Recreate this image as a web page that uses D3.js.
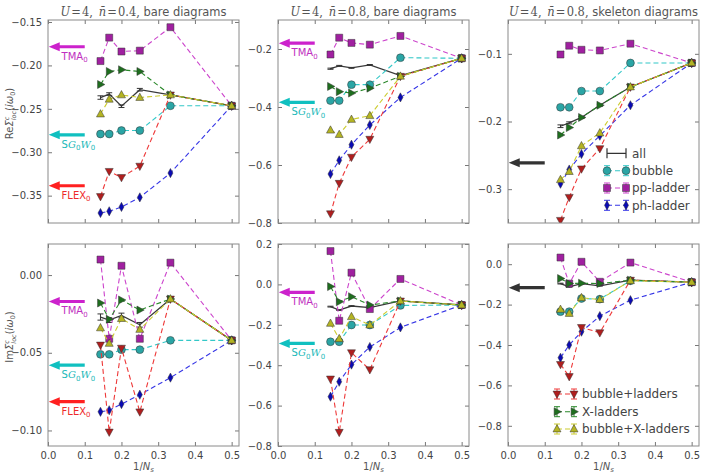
<!DOCTYPE html>
<html><head><meta charset="utf-8">
<script src="https://cdn.jsdelivr.net/npm/d3@7"></script>
<style>body{margin:0;background:#fff;} svg text{font-family:"DejaVu Sans",sans-serif;}</style>
</head><body><svg id="c" width="702" height="474"></svg>
<script>
// ---------- data ----------
const xVals = [1/7, 1/6, 1/5, 1/4, 1/3, 1/2];
const seriesNames = ["all", "bubble", "pp-ladder", "ph-ladder", "bubble+ladders", "X-ladders", "bubble+X-ladders"];
// order of rows follows seriesNames
const reBare04 = [
  [-0.237, -0.233, -0.247, -0.228, -0.234, -0.2465],
  [-0.279, -0.279, -0.275, -0.275, -0.2465, -0.2465],
  [-0.195, -0.168, -0.184, -0.183, -0.156, -0.2465],
  [-0.370, -0.368, -0.363, -0.352, -0.324, -0.2465],
  [-0.351, -0.322, -0.329, -0.316, -0.234, -0.2465],
  [-0.222, -0.207, -0.205, -0.207, -0.234, -0.2465],
  [-0.256, -0.239, -0.234, -0.237, -0.234, -0.2465]
];
const reBare08 = [
  [-0.268, -0.258, -0.265, -0.255, -0.292, -0.232],
  [-0.378, -0.378, -0.323, -0.323, -0.230, -0.232],
  [-0.219, -0.161, -0.179, -0.185, -0.155, -0.232],
  [-0.631, -0.584, -0.530, -0.462, -0.367, -0.232],
  [-0.768, -0.663, -0.573, -0.511, -0.294, -0.232],
  [-0.329, -0.347, -0.352, -0.335, -0.294, -0.232],
  [-0.480, -0.495, -0.443, -0.430, -0.294, -0.232]
];
const reSkel08 = [
  [-0.207, -0.202, -0.194, -0.176, -0.149, -0.1135],
  [-0.179, -0.179, -0.155, -0.155, -0.1135, -0.1135],
  [-0.101, -0.088, -0.094, -0.095, -0.085, -0.1135],
  [-0.292, -0.271, -0.248, -0.221, -0.176, -0.1135],
  [-0.346, -0.312, -0.270, -0.240, -0.149, -0.1135],
  [-0.220, -0.209, -0.194, -0.176, -0.149, -0.1135],
  [-0.286, -0.274, -0.236, -0.217, -0.149, -0.1135]
];
const imBare04 = [
  [-0.027, -0.029, -0.026, -0.032, -0.0154, -0.042],
  [-0.051, -0.051, -0.048, -0.048, -0.042, -0.042],
  [0.010, -0.041, 0.006, -0.041, 0.008, -0.042],
  [-0.088, -0.087, -0.083, -0.077, -0.066, -0.042],
  [-0.045, -0.101, -0.047, -0.088, -0.0154, -0.042],
  [-0.018, -0.0285, -0.016, -0.0225, -0.0154, -0.042],
  [-0.034, -0.044, -0.028, -0.035, -0.0154, -0.042]
];
const imBare08 = [
  [-0.110, -0.127, -0.107, -0.115, -0.082, -0.102],
  [-0.284, -0.284, -0.201, -0.201, -0.104, -0.102],
  [0.165, -0.180, 0.058, -0.122, 0.027, -0.102],
  [-0.556, -0.482, -0.397, -0.310, -0.213, -0.102],
  [-0.468, -0.732, -0.338, -0.422, -0.082, -0.102],
  [-0.011, -0.086, -0.061, -0.102, -0.082, -0.102],
  [-0.193, -0.269, -0.160, -0.201, -0.082, -0.102]
];
const imSkel08 = [
  [-0.096, -0.112, -0.096, -0.107, -0.079, -0.089],
  [-0.235, -0.235, -0.170, -0.173, -0.082, -0.089],
  [0.033, -0.096, 0.012, -0.087, 0.008, -0.089],
  [-0.463, -0.400, -0.334, -0.257, -0.178, -0.089],
  [-0.496, -0.556, -0.313, -0.339, -0.079, -0.089],
  [-0.071, -0.096, -0.094, -0.096, -0.079, -0.089],
  [-0.224, -0.244, -0.166, -0.175, -0.082, -0.089]
];
// error bars of the "all" curve
const allErr = [0.002, 0.0015, 0.0015, 0.0015, 0.001, 0.001];
// reference values (arrows)
const arrowsP1 = [["TMA", -0.1785], ["SGW", -0.280], ["FLEX", -0.3386]];
const arrowsP2 = [["TMA", -0.180], ["SGW", -0.384]];
const arrowsP3 = [["BLACK", -0.261]];
const arrowsP4 = [["TMA", -0.017], ["SGW", -0.058], ["FLEX", -0.0815]];
const arrowsP5 = [["TMA", -0.039], ["SGW", -0.292]];
const arrowsP6 = [["BLACK", -0.116]];
const xTicks = [0, 0.1, 0.2, 0.3, 0.4, 0.5];
const yTicksP1 = [-0.15, -0.20, -0.25, -0.30, -0.35];
const yTicksP2 = [-0.2, -0.4, -0.6, -0.8];
const yTicksP3 = [-0.1, -0.2, -0.3];
const yTicksP4 = [0.00, -0.05, -0.10];
const yTicksP5 = [0.2, 0.0, -0.2, -0.4, -0.6, -0.8];
const yTicksP6 = [0.0, -0.2, -0.4, -0.6, -0.8];

// ---------- styles ----------
const lineColor = ["#3a3a3a", "#33c8c8", "#cc44cc", "#3636e6", "#ee3838", "#2a882a", "#cccc30"];
const fillColor = ["#333", "#2aa5a5", "#a020a0", "#0a0ab4", "#b01e1e", "#1e6e1e", "#b4b422"];
const markerType = ["none", "circle", "square", "diamond", "tdown", "tright", "tup"];
const arrowColor = {TMA: "#cc22cc", SGW: "#10c0c0", FLEX: "#ff2020", BLACK: "#333"};
const arrowTextColor = {TMA: "#c030c0", SGW: "#20b8b8", FLEX: "#ee2a2a"};

const svg = d3.select("#c");
const W = 191;
const colX = [48, 278, 508];
const rowY = [20, 244];
const rowH = [203, 202];

function markerPath(type) {
  switch (type) {
    case "circle": return d3.symbol(d3.symbolCircle, 48)();
    case "square": return "M-3.5,-3.5H3.5V3.5H-3.5Z";
    case "diamond": return "M0,-4.6L2.5,0L0,4.6L-2.5,0Z";
    case "tup": return "M0,-4.4L4,2.9L-4,2.9Z";
    case "tdown": return "M0,4.4L4,-2.9L-4,-2.9Z";
    case "tright": return "M4.4,0L-2.9,4L-2.9,-4Z";
  }
  return null;
}

function mathTitle(g, cx, parts, len) {
  const t = g.append("text").attr("x", cx).attr("y", 16).attr("text-anchor", "middle")
    .attr("font-size", 12).attr("fill", "#555")
    .attr("textLength", len).attr("lengthAdjust", "spacingAndGlyphs");
  parts.forEach(p => {
    const s = t.append("tspan").text(p[0]);
    if (p[1] === "i") s.attr("font-family", "DejaVu Serif").attr("font-style", "italic");
    else if (p[1] === "r") s.attr("font-family", "DejaVu Serif");
  });
}

function panel(col, row, data, yDomain, yTicks, fmt, arrows, title, opts) {
  const x0 = colX[col], y0 = rowY[row], H = rowH[row];
  const x = d3.scaleLinear().domain([0, 0.52]).range([x0, x0 + W]);
  const y = d3.scaleLinear().domain(yDomain).range([y0 + H, y0]);
  const g = svg.append("g");

  // axes (ticks inward on all sides)
  const tickStyle = sel => {
    sel.select(".domain").remove();
    sel.selectAll(".tick line").attr("stroke", "#777");
    sel.selectAll(".tick text").attr("fill", "#444").attr("font-size", 10).attr("font-family", "DejaVu Sans");
  };
  g.append("g").attr("transform", `translate(0,${y0 + H})`)
    .call(d3.axisBottom(x).tickValues(xTicks).tickSize(-4).tickPadding(6).tickFormat(row === 1 ? d3.format(".1f") : () => ""))
    .call(tickStyle);
  g.append("g").attr("transform", `translate(0,${y0})`)
    .call(d3.axisTop(x).tickValues(xTicks).tickSize(-4).tickFormat(() => "")).call(tickStyle);
  g.append("g").attr("transform", `translate(${x0},0)`)
    .call(d3.axisLeft(y).tickValues(yTicks).tickSize(-4).tickPadding(6).tickFormat(d3.format(fmt)))
    .call(tickStyle);
  g.append("g").attr("transform", `translate(${x0 + W},0)`)
    .call(d3.axisRight(y).tickValues(yTicks).tickSize(-4).tickFormat(() => "")).call(tickStyle);

  const clipId = `clip${col}${row}`;
  svg.append("clipPath").attr("id", clipId).append("rect")
    .attr("x", x0).attr("y", y0).attr("width", W).attr("height", H);
  const plot = g.append("g").attr("clip-path", `url(#${clipId})`);

  // arrows
  arrows.forEach(([name, val]) => {
    const yy = y(val);
    const xt = x(0.002), xs = x(0.1);
    const c = arrowColor[name];
    const hl = 11, hw = 4.5, sw = 1.6;
    plot.append("path")
      .attr("d", `M${xs},${yy - sw}L${xt + hl},${yy - sw}L${xt + hl},${yy - hw}L${xt},${yy}L${xt + hl},${yy + hw}L${xt + hl},${yy + sw}L${xs},${yy + sw}Z`)
      .attr("fill", c);
    if (name !== "BLACK") {
      const t = g.append("text").attr("x", x(0.037)).attr("y", yy + 13)
        .attr("fill", arrowTextColor[name]).attr("font-size", 10);
      if (name === "SGW") {
        t.append("tspan").text("S");
        t.append("tspan").text("G").attr("font-family", "DejaVu Serif").attr("font-style", "italic");
        t.append("tspan").text("0").attr("font-size", 7).attr("dy", 2.5);
        t.append("tspan").text("W").attr("font-family", "DejaVu Serif").attr("font-style", "italic").attr("dy", -2.5);
        t.append("tspan").text("0").attr("font-size", 7).attr("dy", 2.5);
      } else {
        t.append("tspan").text(name);
        t.append("tspan").text("0").attr("font-size", 7).attr("dy", 2.5);
      }
    }
  });

  // series
  data.forEach((vals, si) => {
    const pts = vals.map((v, i) => [x(xVals[i]), y(v)]);
    plot.append("path").attr("d", d3.line()(pts)).attr("fill", "none")
      .attr("stroke", lineColor[si]).attr("stroke-width", si === 0 ? 1.3 : 1.1)
      .attr("stroke-dasharray", si === 0 ? null : "5,3");
    if (si === 0) {
      vals.forEach((v, i) => {
        const px = x(xVals[i]), e = allErr[i];
        const ya = y(v - e), yb = y(v + e);
        plot.append("path").attr("d", `M${px},${ya}V${yb}M${px - 3},${ya}H${px + 3}M${px - 3},${yb}H${px + 3}`)
          .attr("stroke", "#333").attr("stroke-width", 1).attr("fill", "none");
      });
    } else {
      pts.forEach(p => {
        plot.append("path").attr("d", markerPath(markerType[si]))
          .attr("transform", `translate(${p[0]},${p[1]})`)
          .attr("fill", fillColor[si]).attr("stroke", "#333").attr("stroke-width", 0.5);
      });
    }
  });

  // frame
  g.append("rect").attr("x", x0).attr("y", y0).attr("width", W).attr("height", H)
    .attr("fill", "none").attr("stroke", "#8a8a8a").attr("stroke-width", 1);

  if (title.length) mathTitle(g, x0 + W / 2 + (opts && opts.tshift || 0), title, opts.tlen);
  if (row === 1) {
    const t = g.append("text").attr("x", x0 + W / 2).attr("y", 470).attr("text-anchor", "middle")
      .attr("font-size", 10).attr("fill", "#555").attr("font-family", "DejaVu Serif");
    t.append("tspan").text("1/");
    t.append("tspan").text("N").attr("font-style", "italic");
    t.append("tspan").text("s").attr("font-style", "italic").attr("font-size", 7).attr("dy", 2);
  }
  if (opts && opts.ylabel) {
    const cy = y0 + H / 2 - 8;
    const t = g.append("text").attr("transform", `translate(13,${cy}) rotate(-90)`)
      .attr("text-anchor", "middle").attr("font-size", 10).attr("fill", "#555").attr("font-family", "DejaVu Serif");
    t.append("tspan").text(opts.ylabel);
    t.append("tspan").text("Σ").attr("font-style", "italic");
    t.append("tspan").text("c").attr("font-style", "italic").attr("font-size", 6.5).attr("dy", -4);
    t.append("tspan").text("loc").attr("font-style", "italic").attr("font-size", 6.5).attr("dx", -3.5).attr("dy", 7);
    t.append("tspan").text("(").attr("dy", -3);
    t.append("tspan").text("iω").attr("font-style", "italic");
    t.append("tspan").text("0").attr("font-size", 6.5).attr("dy", 2);
    t.append("tspan").text(")").attr("dy", -2);
  }
  return {x, y};
}

const tBare04 = [["U", "i"], ["\u200a=\u200a4,\u2002", "r"], ["n\u0304", "i"], ["\u200a=\u200a0.4,", "r"], [" bare diagrams", "s"]];
const tBare08 = [["U", "i"], ["\u200a=\u200a4,\u2002", "r"], ["n\u0304", "i"], ["\u200a=\u200a0.8,", "r"], [" bare diagrams", "s"]];
const tSkel08 = [["U", "i"], ["\u200a=\u200a4,\u2002", "r"], ["n\u0304", "i"], ["\u200a=\u200a0.8,", "r"], [" skeleton diagrams", "s"]];

panel(0, 0, reBare04, [-0.3815, -0.1477], yTicksP1, ".2f", arrowsP1, tBare04, {ylabel: "Re", tlen: 166});
panel(1, 0, reBare08, [-0.8, -0.1], yTicksP2, ".1f", arrowsP2, tBare08, {tlen: 166});
panel(2, 0, reSkel08, [-0.35, -0.05], yTicksP3, ".1f", arrowsP3, tSkel08, {tlen: 189});
panel(0, 1, imBare04, [-0.11, 0.02], yTicksP4, ".2f", arrowsP4, [], {ylabel: "Im"});
panel(1, 1, imBare08, [-0.8, 0.2], yTicksP5, ".1f", arrowsP5, [], {});
panel(2, 1, imSkel08, [-0.9, 0.1], yTicksP6, ".1f", arrowsP6, [], {});

// ---------- legends ----------
function legend(items, xa, xb, xt, ys) {
  const g = svg.append("g");
  items.forEach((si, k) => {
    const yy = ys[k];
    if (si === 0) {
      g.append("path").attr("d", `M${xa},${yy}H${xb}M${xa},${yy - 5}V${yy + 5}M${xb},${yy - 5}V${yy + 5}`)
        .attr("stroke", "#333").attr("stroke-width", 1.2).attr("fill", "none");
    } else {
      g.append("path").attr("d", `M${xa},${yy}H${xb}`).attr("stroke", lineColor[si])
        .attr("stroke-width", 1.1).attr("stroke-dasharray", "5,3");
      [xa, xb].forEach(px => {
        g.append("path").attr("d", `M${px},${yy - 5}V${yy + 5}M${px - 3},${yy - 5}H${px + 3}M${px - 3},${yy + 5}H${px + 3}`)
          .attr("stroke", lineColor[si]).attr("stroke-width", 1).attr("fill", "none");
        g.append("path").attr("d", markerPath(markerType[si])).attr("transform", `translate(${px},${yy})`)
          .attr("fill", fillColor[si]).attr("stroke", "#333").attr("stroke-width", 0.5);
      });
    }
    g.append("text").attr("x", xt).attr("y", yy + 4.3).attr("font-size", 12).attr("fill", "#444")
      .text(seriesNames[si]);
  });
}
legend([0, 1, 2, 3], 607, 626, 632, [153.3, 170.7, 188, 205.3]);
legend([4, 5, 6], 557, 574, 582, [394, 411.7, 429]);
</script>
</body></html>
